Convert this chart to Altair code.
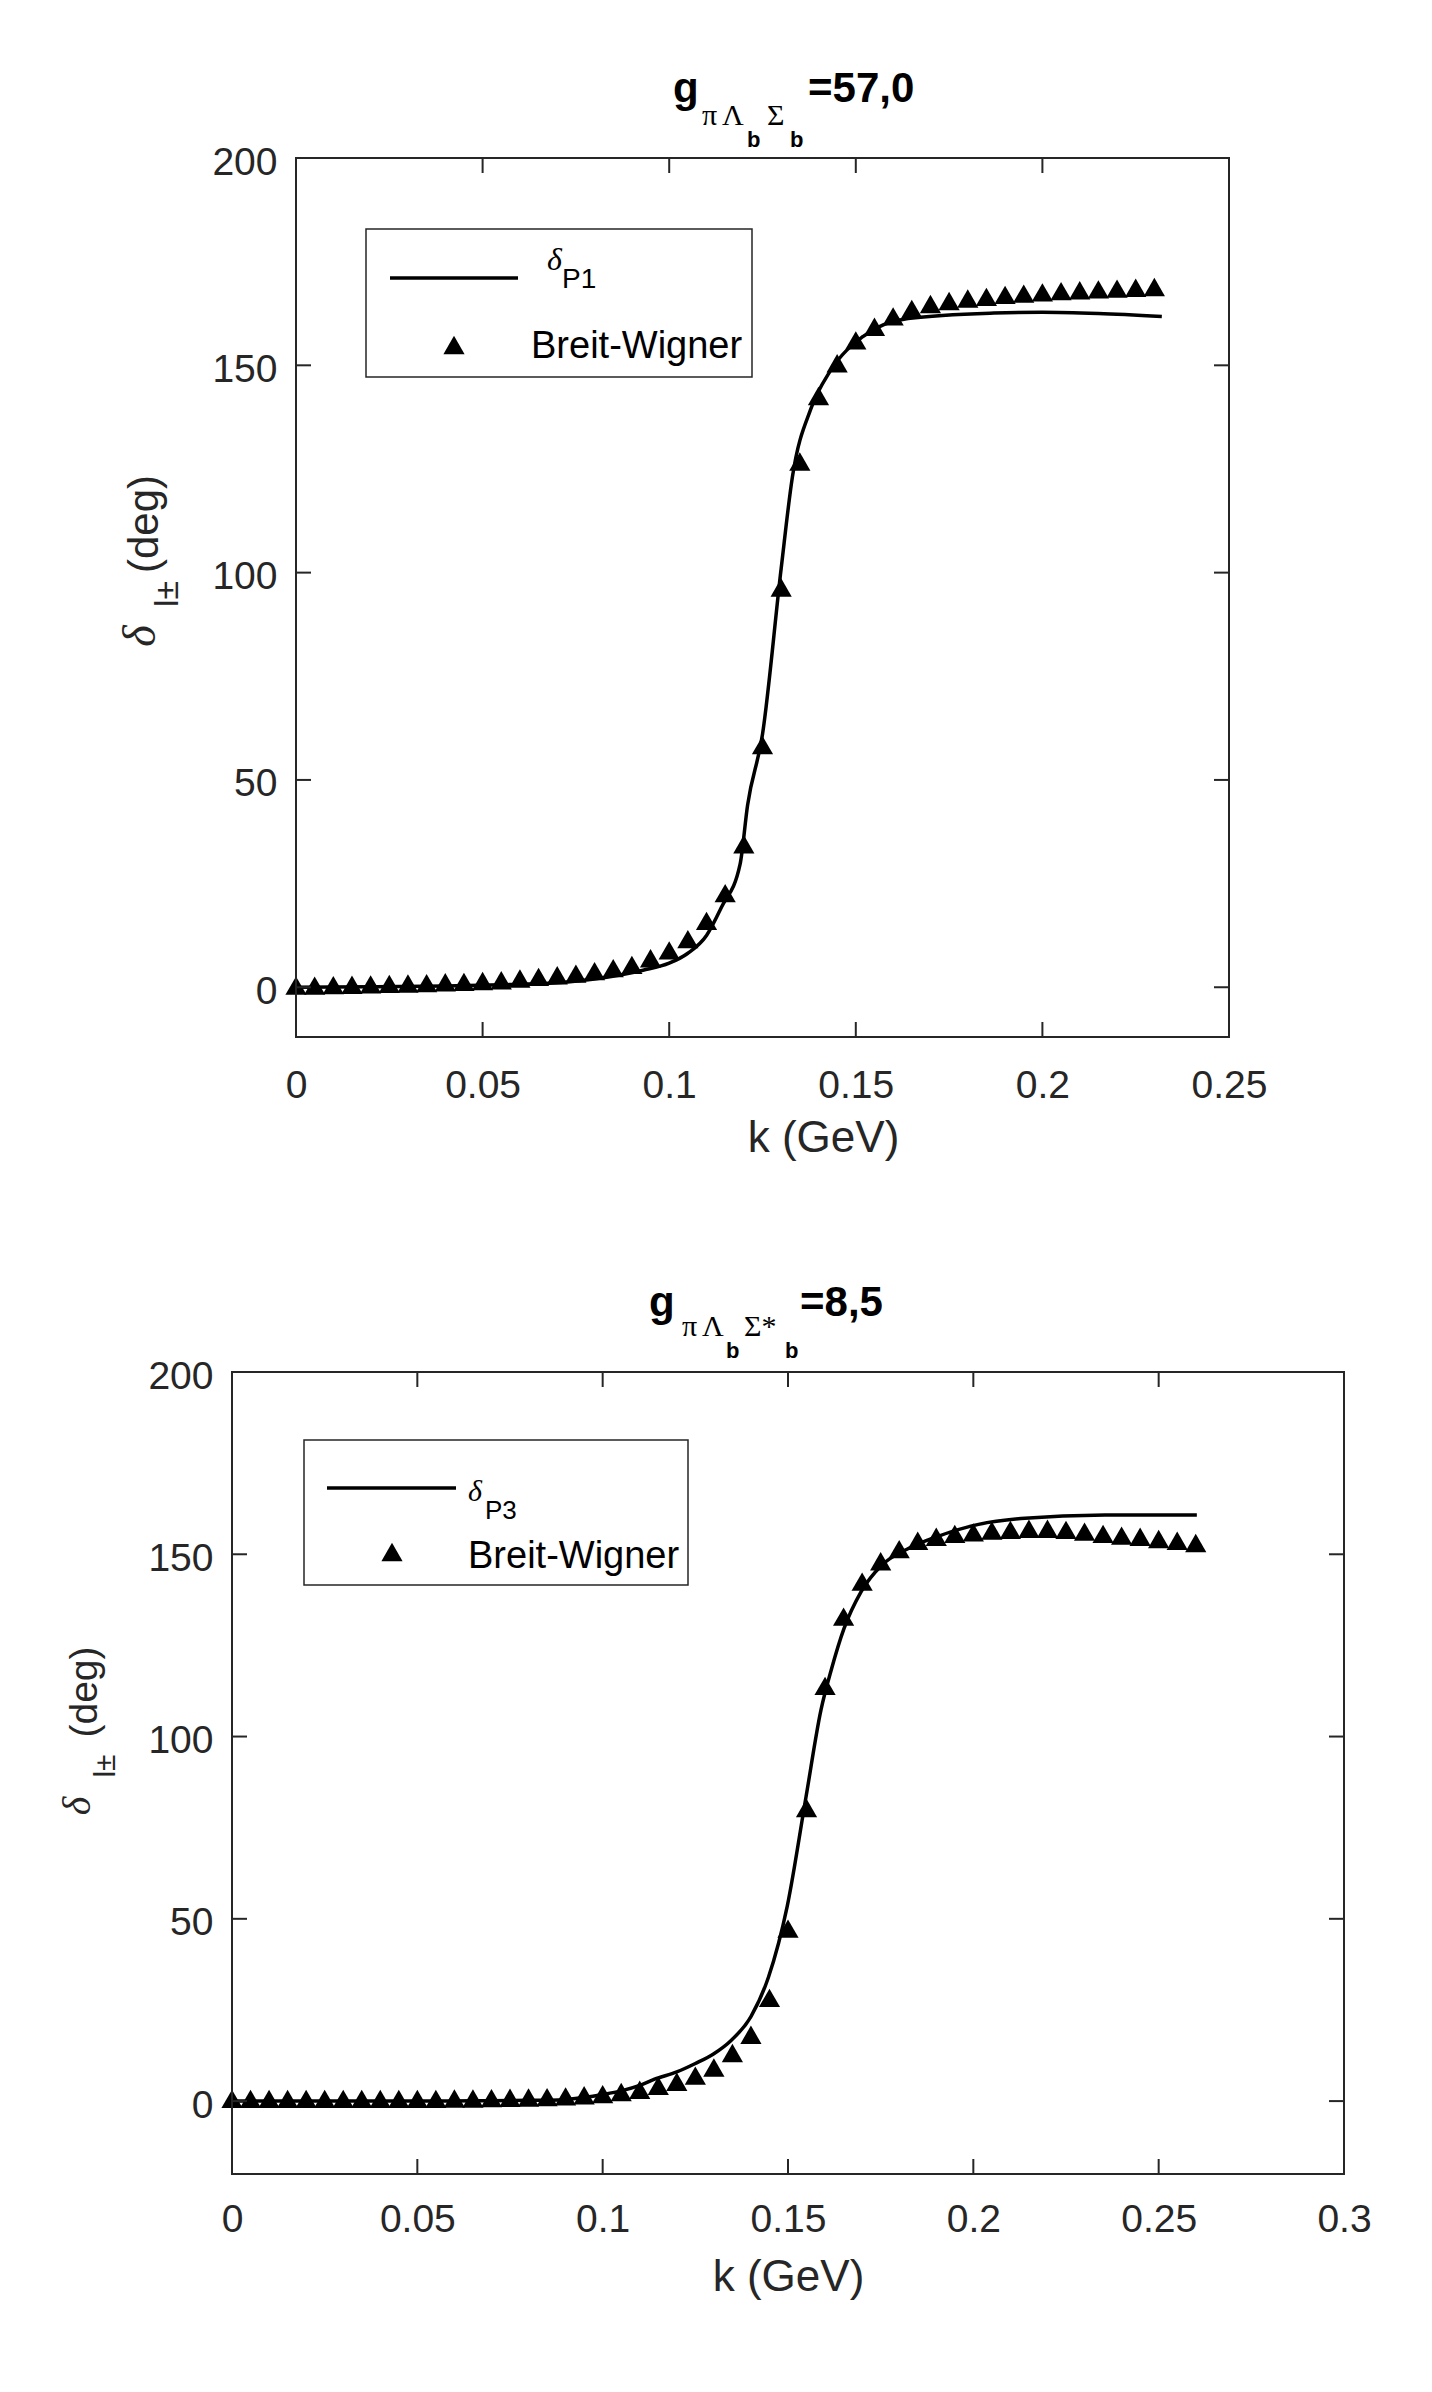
import altair as alt
import pandas as pd

# ---------------- data ----------------
top_line_k = [0.0, 0.02, 0.04, 0.055, 0.07, 0.08, 0.093, 0.1, 0.105, 0.11,
              0.114, 0.119, 0.121, 0.125, 0.13, 0.133, 0.138, 0.143, 0.152, 0.164,
              0.187, 0.2, 0.215, 0.232]
top_line_v = [0.0, 0.1, 0.3, 0.6, 1.1, 2.0, 4.1, 5.8, 8.2, 12.5,
              19.3, 29.7, 43.9, 61.0, 101.0, 123.0, 139.6, 148.4, 157.0, 161.3,
              162.6, 162.8, 162.5, 161.8]
top_bw_k = [0.000, 0.005, 0.010, 0.015, 0.020, 0.025, 0.030, 0.035, 0.040, 0.045,
            0.050, 0.055, 0.060, 0.065, 0.070, 0.075, 0.080, 0.085, 0.090, 0.095,
            0.100, 0.105, 0.110, 0.115, 0.120, 0.125, 0.130, 0.135, 0.140, 0.145,
            0.150, 0.155, 0.160, 0.165, 0.170, 0.175, 0.180, 0.185, 0.190, 0.195,
            0.200, 0.205, 0.210, 0.215, 0.220, 0.225, 0.230]
top_bw_v = [0.4, 0.4, 0.5, 0.6, 0.7, 0.8, 0.9, 1.0, 1.2, 1.3,
            1.5, 1.7, 2.1, 2.5, 2.9, 3.3, 3.9, 4.6, 5.4, 7.0,
            8.9, 11.6, 16.0, 22.7, 34.5, 58.4, 96.4, 126.8, 142.6, 150.5,
            156.0, 159.3, 161.8, 163.6, 164.8, 165.5, 166.1, 166.5, 167.0, 167.3,
            167.6, 167.9, 168.1, 168.3, 168.5, 168.7, 168.9]

bot_line_k = [0.0, 0.02, 0.04, 0.06, 0.07, 0.08, 0.088, 0.095, 0.1, 0.105,
              0.11, 0.114, 0.12, 0.125, 0.13, 0.1345, 0.14, 0.1447, 0.1498, 0.1549,
              0.1589, 0.1617, 0.1651, 0.1697, 0.1753, 0.1821, 0.1901, 0.2014, 0.2128, 0.2355,
              0.2603]
bot_line_v = [0.0, 0.0, 0.0, 0.05, 0.1, 0.2, 0.3, 1.0, 1.8, 2.8,
              4.3, 6.0, 8.0, 10.3, 13.0, 16.5, 23.2, 33.9, 53.5, 83.7,
              107.3, 118.4, 129.6, 139.7, 147.0, 151.4, 154.8, 158.2, 159.8, 160.8,
              160.8]
bot_bw_k = [0.000, 0.005, 0.010, 0.015, 0.020, 0.025, 0.030, 0.035, 0.040, 0.045,
            0.050, 0.055, 0.060, 0.065, 0.070, 0.075, 0.080, 0.085, 0.090, 0.095,
            0.100, 0.105, 0.110, 0.115, 0.120, 0.125, 0.130, 0.135, 0.140, 0.145,
            0.150, 0.155, 0.160, 0.165, 0.170, 0.175, 0.180, 0.185, 0.190, 0.195,
            0.200, 0.205, 0.210, 0.215, 0.220, 0.225, 0.230, 0.235, 0.240, 0.245,
            0.250, 0.255, 0.260]
bot_bw_v = [0.6, 0.6, 0.6, 0.6, 0.6, 0.6, 0.6, 0.6, 0.6, 0.6,
            0.6, 0.6, 0.7, 0.7, 0.8, 0.9, 1.0, 1.1, 1.3, 1.6,
            1.9, 2.5, 3.1, 4.2, 5.3, 7.0, 9.2, 13.2, 18.2, 28.3,
            47.3, 80.4, 113.9, 132.9, 142.5, 148.1, 151.4, 153.7, 154.8, 155.6,
            156.0, 156.5, 156.7, 157.0, 157.0, 156.7, 156.2, 155.6, 155.1, 154.8,
            154.2, 153.7, 153.1]

top_x_ticks = [0, 0.05, 0.1, 0.15, 0.2, 0.25]
bot_x_ticks = [0, 0.05, 0.1, 0.15, 0.2, 0.25, 0.3]
y_ticks = [0, 50, 100, 150, 200]

top_title = ["g", "π", "Λ", "b", "Σ", "b", "=57,0"]
bot_title = ["g", "π", "Λ", "b", "Σ*", "b", "=8,5"]
y_title = ["δ", "l±", "(deg)"]
x_title = "k (GeV)"
legend_top = ["δ", "P1", "Breit-Wigner"]
legend_bot = ["δ", "P3", "Breit-Wigner"]

# ---------------- styling ----------------
AX = "#262626"
SANS = "Liberation Sans"
SERIF = "Liberation Serif"
ONE = pd.DataFrame({"z": [0]})

KIND = {
    "main": dict(fontSize=42, font=SANS, fontWeight="bold"),
    "greek": dict(fontSize=30, font=SERIF, fontWeight="normal"),
    "sub": dict(fontSize=22, font=SANS, fontWeight="bold"),
}
TITLE_KINDS = ["main", "greek", "greek", "sub", "greek", "sub", "main"]


def text_mark(s, x, y, **kw):
    opts = dict(align="left", baseline="alphabetic", color="black")
    opts.update(kw)
    return alt.Chart(ONE).mark_text(text=s, **opts).encode(x=alt.value(x), y=alt.value(y))


def panel(line_k, line_v, bw_k, bw_v, xmax, xticks, ymin, W, H,
          title_pieces, title_pos, ylab, leg_text, leg, lab_pad, tx, ty, T, B):
    xs = alt.Scale(domain=[0, xmax], nice=False, zero=False)
    ys = alt.Scale(domain=[ymin, 200], nice=False, zero=False)
    xaxis = alt.Axis(values=xticks, format="~g", ticks=False, tickSize=0, domain=False,
                     grid=False, labelFont=SANS, labelFontSize=39, labelColor=AX,
                     labelPadding=lab_pad, labelFlush=False,
                     titleFont=SANS, titleFontSize=44, titleFontWeight="normal",
                     titleColor=AX, titleX=tx, titleY=ty, titleBaseline="top",
                     titleAlign="center")
    yaxis = alt.Axis(values=y_ticks, format="d", ticks=False, tickSize=0, domain=False,
                     grid=False, labelFont=SANS, labelFontSize=39, labelColor=AX,
                     labelPadding=19, labelFlush=False, labelOffset=4)

    def X(**kw):
        return alt.X("k:Q", title=x_title, **kw)

    def Y(**kw):
        return alt.Y("d:Q", title=None, **kw)

    line = alt.Chart(pd.DataFrame({"k": line_k, "d": line_v})).mark_line(
        color="black", strokeWidth=3.5, interpolate="monotone"
    ).encode(x=X(scale=xs, axis=xaxis), y=Y(scale=ys, axis=yaxis))
    pts = alt.Chart(pd.DataFrame({"k": bw_k, "d": bw_v})).mark_point(
        shape="triangle-up", filled=True, size=450, color="black", opacity=1
    ).encode(x=X(), y=Y())

    xt = pd.DataFrame({"k": xticks})
    yt = pd.DataFrame({"d": y_ticks})
    rule_style = dict(color=AX, strokeWidth=2)
    tb = alt.Chart(xt).mark_rule(**rule_style).encode(x=X(), y=alt.value(H), y2=alt.value(H - 15))
    tt = alt.Chart(xt).mark_rule(**rule_style).encode(x=X(), y=alt.value(0), y2=alt.value(15))
    tl = alt.Chart(yt).mark_rule(**rule_style).encode(y=Y(), x=alt.value(0), x2=alt.value(15))
    tr = alt.Chart(yt).mark_rule(**rule_style).encode(y=Y(), x=alt.value(W), x2=alt.value(W - 15))

    # legend
    lb = alt.Chart(ONE).mark_rect(fill="white", stroke=AX, strokeWidth=1.5).encode(
        x=alt.value(leg["box"][0]), x2=alt.value(leg["box"][1]),
        y=alt.value(leg["box"][2]), y2=alt.value(leg["box"][3]))
    ll = alt.Chart(ONE).mark_rule(color="black", strokeWidth=3.5).encode(
        x=alt.value(leg["line"][0]), x2=alt.value(leg["line"][1]), y=alt.value(leg["line"][2]))
    lt = alt.Chart(ONE).mark_point(shape="triangle-up", filled=True, size=450,
                                   color="black", opacity=1).encode(
        x=alt.value(leg["tri"][0]), y=alt.value(leg["tri"][1]))
    ld = text_mark(leg_text[0], leg["delta"][0], leg["delta"][1], font=SERIF,
                   fontStyle="italic", fontSize=leg["delta"][2])
    lp = text_mark(leg_text[1], leg["sub"][0], leg["sub"][1], font=SANS,
                   fontSize=leg["sub"][2])
    lw = text_mark(leg_text[2], leg["bw"][0], leg["bw"][1], font=SANS,
                   fontSize=leg["bw"][2])

    # y-axis title (rotated), built from pieces
    yd = text_mark(y_title[0], ylab[0][0], ylab[0][1], font=SERIF, fontStyle="italic",
                   fontSize=ylab[0][2], angle=270, align="center", baseline="middle", color=AX)
    ys_ = text_mark(y_title[1], ylab[1][0], ylab[1][1], font=SANS,
                    fontSize=ylab[1][2], angle=270, align="center", baseline="middle", color=AX)
    yg = text_mark(y_title[2], ylab[2][0], ylab[2][1], font=SANS,
                   fontSize=ylab[2][2], angle=270, align="center", baseline="middle", color=AX)

    # title pieces with subscripts
    tmarks = []
    for s, kind, (px, py) in zip(title_pieces, TITLE_KINDS, title_pos):
        tmarks.append(text_mark(s, px, py, **KIND[kind]))

    frame = alt.Chart(ONE).mark_rect(fillOpacity=0, stroke=AX, strokeWidth=2).encode(
        x=alt.value(0), x2=alt.value(W), y=alt.value(0), y2=alt.value(H))
    anchor = alt.Chart(ONE).mark_rule(opacity=0, strokeWidth=1).encode(
        x=alt.value(-190), y=alt.value(-T), y2=alt.value(H + B))

    layers = [line, pts, tb, tt, tl, tr, lb, ll, lt, ld, lp, lw, yd, ys_, yg] + tmarks + [frame, anchor]
    return alt.layer(*layers).properties(width=W, height=H)


top = panel(
    top_line_k, top_line_v, top_bw_k, top_bw_v, 0.25, top_x_ticks, -12, 933, 879,
    top_title,
    [(377, -56), (406, -33), (426, -33), (451, -11), (471, -33), (494, -11), (512, -56)],
    [(-155, 478, 46), (-128, 436, 34), (-151, 366, 42)],
    legend_top,
    dict(box=(70, 456, 71, 219), line=(94, 222, 120), tri=(158, 187),
         delta=(251, 112, 32), sub=(266, 130, 28), bw=(235, 200, 38)),
    29, 527, 79, 150, 140,
)

bot = panel(
    bot_line_k, bot_line_v, bot_bw_k, bot_bw_v, 0.3, bot_x_ticks, -20, 1112, 802,
    bot_title,
    [(417, -56), (450, -36), (470, -36), (494, -14), (512, -36), (553, -14), (568, -56)],
    [(-154, 434, 40), (-126, 394, 30), (-147, 320, 39)],
    legend_bot,
    dict(box=(72, 456, 68, 213), line=(95, 224, 116), tri=(160, 180),
         delta=(236, 129, 30), sub=(253, 147, 26), bw=(236, 196, 38)),
    26, 556, 81, 100, 140,
)


def spacer(w):
    return alt.Chart(ONE).mark_rule(opacity=0, strokeWidth=1).encode(
        x=alt.value(0), x2=alt.value(w), y=alt.value(0)).properties(width=w, height=1)


row1 = alt.hconcat(spacer(98), top, spacing=0)
row2 = alt.hconcat(spacer(34), bot, spacing=0)

chart = alt.vconcat(row1, row2, spacing=95).properties(
    padding={"left": 0, "top": 0, "right": 0, "bottom": 0},
    background="white",
).configure_view(strokeWidth=0, strokeOpacity=0)

chart.save("out.html", embed_options={"renderer": "svg", "actions": False})
